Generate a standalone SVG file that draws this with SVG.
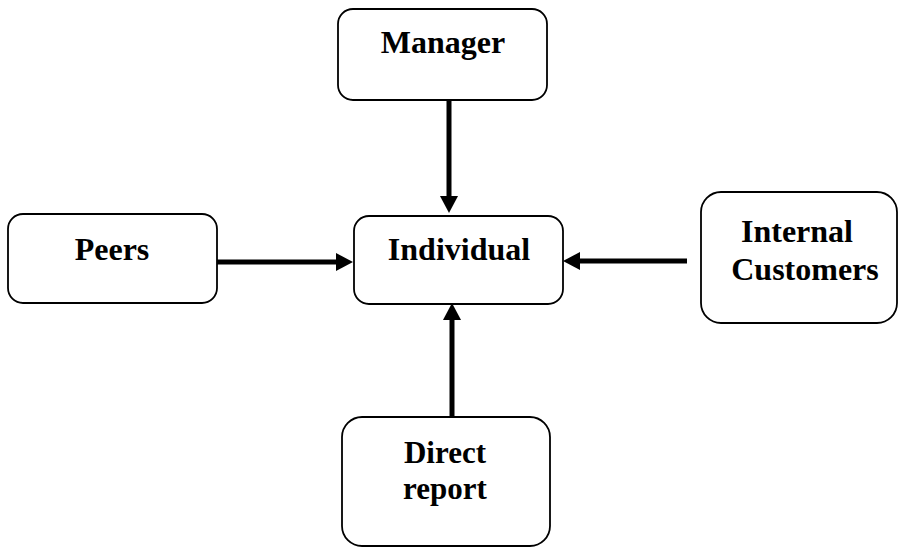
<svg xmlns="http://www.w3.org/2000/svg" width="898" height="548" viewBox="0 0 898 548">
<style>
.box{fill:#fff;stroke:#000;stroke-width:1.8}
.lbl{font-family:"Liberation Serif","Times New Roman",serif;font-weight:bold;font-size:32px;fill:#000;text-anchor:middle}
.arr{stroke:#000;stroke-width:5;fill:none;marker-end:url(#ah)}
</style>
<defs>
<marker id="ah" markerUnits="userSpaceOnUse" markerWidth="18" markerHeight="18" refX="1" refY="9" orient="auto">
<path d="M0,0 L17,9 L0,18 z" fill="#000"/>
</marker>
</defs>
<rect width="898" height="548" fill="#fff"/>
<g id="connectors">
<line class="arr" x1="449" y1="100" x2="449" y2="197"/>
<line class="arr" x1="217" y1="262" x2="337" y2="262"/>
<line class="arr" x1="687" y1="261" x2="579" y2="261"/>
<line class="arr" x1="452" y1="417" x2="452" y2="319"/>
</g>
<g id="manager">
<rect class="box" x="338" y="9" width="209" height="91" rx="15"/>
<text class="lbl" x="443" y="53">Manager</text>
</g>
<g id="peers">
<rect class="box" x="8" y="214" width="209" height="89" rx="15"/>
<text class="lbl" x="112" y="260">Peers</text>
</g>
<g id="individual">
<rect class="box" x="354" y="216" width="209" height="88" rx="15"/>
<text class="lbl" x="459" y="260">Individual</text>
</g>
<g id="internal-customers">
<rect class="box" x="701" y="192" width="196" height="131" rx="20"/>
<text class="lbl" x="797" y="242">Internal</text>
<text class="lbl" x="805" y="280">Customers</text>
</g>
<g id="direct-report">
<rect class="box" x="342" y="417" width="208" height="129" rx="20"/>
<text class="lbl" x="445" y="463" style="font-size:31px">Direct</text>
<text class="lbl" x="445" y="499" style="font-size:31px">report</text>
</g>
</svg>
